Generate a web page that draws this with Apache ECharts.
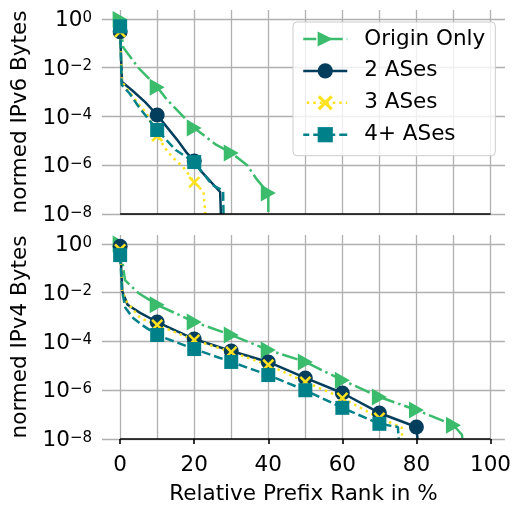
<!DOCTYPE html>
<html><head><meta charset="utf-8">
<script src="https://cdn.jsdelivr.net/npm/echarts@6/dist/echarts.min.js"></script>
<style>html,body{margin:0;padding:0;background:#fff}#c{width:514px;height:509px}</style>
</head><body><div id="c"></div>
<script>
const FLOOR = 1e-8;
const seriesNames = ['Origin Only', '2 ASes', '3 ASes', '4+ ASes'];
const xTickLabels = [0, 20, 40, 60, 80, 100];
const xGridValues = [0, 10, 20, 30, 40, 50, 60, 70, 80, 90, 100];

// IPv6 (top panel): [relative prefix rank %, normed bytes]
const v6Origin = [[0,0.95],[0.8,7e-2],[4.9,1.0e-2],[10,1.6e-3],[12.7,4.8e-4],[20,3.4e-5],[26,6.8e-6],[30,3.2e-6],[34.3,1.0e-6],[37,2.5e-7],[40,7.3e-8],[40,FLOOR]];
const v6As2    = [[0,0.3],[0.5,2.6e-3],[3.2,1.2e-3],[6.7,4e-4],[10,1.15e-4],[15.4,1.1e-5],[18,3.2e-6],[20,1.5e-6],[21.6,6.3e-7],[27,8e-8],[27.2,FLOOR]];
const v6As3    = [[0,0.3],[0.5,2.6e-3],[2.7,9e-4],[5.9,2.2e-4],[7.3,1.2e-4],[10,1.6e-5],[11.3,8e-6],[12.9,3.5e-6],[14.8,1.7e-6],[17,8.5e-7],[20,2e-7],[22.5,8e-8],[23,FLOOR]];
const v6As4    = [[0,0.5],[0.4,2e-3],[2.5,9e-4],[5,2.5e-4],[10,2.8e-5],[15,4.2e-6],[20,1.35e-6],[24.8,1.6e-7],[27.8,9e-8],[27.9,FLOOR]];

// IPv4 (bottom panel)
const v4Origin = [[0,1.0],[1.3,3.3e-2],[4.9,9.8e-3],[10,3.2e-3],[20,6.3e-4],[30,1.85e-4],[40,4.5e-5],[50,1.45e-5],[60,2.6e-6],[70,5.3e-7],[80,1.55e-7],[90,3.7e-8],[92.3,1.5e-8],[92.4,FLOOR]];
const v4As2    = [[0,0.8],[0.6,1.1e-2],[2,3.2e-3],[5.4,1.5e-3],[10,6.3e-4],[20,1.26e-4],[30,4.1e-5],[40,1.45e-5],[50,3.2e-6],[60,7.7e-7],[70,1.17e-7],[80,3.1e-8],[80.3,FLOOR]];
const v4As3    = [[0,0.6],[0.6,1.1e-2],[1.8,4.2e-3],[5.4,9.2e-4],[10,4.8e-4],[20,1.15e-4],[30,3.7e-5],[40,1.1e-5],[50,2.2e-6],[60,4.8e-7],[70,7.3e-8],[76,3e-8],[76.2,FLOOR]];
const v4As4    = [[0,0.35],[0.5,1.3e-2],[1.4,2.4e-3],[3.5,9.2e-4],[5.9,4.8e-4],[10,1.85e-4],[20,4.9e-5],[30,1.45e-5],[40,4.2e-6],[50,1.0e-6],[60,1.9e-7],[70,4.2e-8],[75,3.1e-8],[75.2,FLOOR]];

const FONT = 'DejaVu Sans';
const FS = 21.5;
const GRID_COLOR = '#b0b0b0';
const X_PATH = 'path://M0,1.5 L1.5,0 L5,3.5 L8.5,0 L10,1.5 L6.5,5 L10,8.5 L8.5,10 L5,6.5 L1.5,10 L0,8.5 L3.5,5 Z';

const styles = {
  'Origin Only': {color:'#3bbc6c', type:[16,4,2.5,4], symbol:'triangle', size:[17,15], rotate:-90},
  '2 ASes':      {color:'#033e5c', type:'solid', symbol:'circle', size:15, rotate:0},
  '3 ASes':      {color:'#fde21f', type:[2.5,4], symbol:X_PATH, size:12, rotate:0},
  '4+ ASes':     {color:'#00818a', type:[9,4], symbol:'rect', size:14, rotate:0}
};

function toData(arr) {
  return arr.map(function (p) {
    const isMarker = (p[0] % 10 === 0) && p[1] > FLOOR;
    return isMarker ? {value: p} : {value: p, symbol: 'none'};
  });
}

function makeSeries(name, arr, idx, withBase) {
  const s = styles[name];
  const ser = {
    name: name, type: 'line', xAxisIndex: idx, yAxisIndex: idx,
    data: toData(arr), symbol: s.symbol, symbolSize: s.size, symbolRotate: s.rotate,
    showAllSymbol: true, showSymbol: true, smooth: false,
    lineStyle: {color: s.color, width: 2.5, type: s.type},
    itemStyle: {color: s.color, borderWidth: 0},
    emphasis: {disabled: true}, animation: false, z: 2
  };
  if (withBase) {
    ser.markLine = {
      silent: true, symbol: ['none', 'none'], animation: false,
      label: {show: false},
      lineStyle: {color: '#000', type: 'solid', width: 1.6},
      data: [[{coord: [0, FLOOR]}, {coord: [100, FLOOR]}]]
    };
  }
  return ser;
}

function yLabel(v) {
  const e = Math.round(Math.log10(v));
  return '{b|10}{s|' + (e < 0 ? '\u2212' + (-e) : e) + '}';
}

function yAxis(idx, name) {
  return {
    gridIndex: idx, type: 'log', logBase: 100, min: FLOOR, max: 2.34,
    axisLine: {show: false}, axisTick: {show: false},
    splitLine: {show: true, showMaxLine: false, lineStyle: {color: GRID_COLOR, width: 1.3}},
    axisLabel: {
      showMaxLabel: false, margin: 10, formatter: yLabel, color: '#000',
      rich: {
        b: {fontFamily: FONT, fontSize: FS, lineHeight: 22, padding: [3, 0, 0, 0], color: '#000'},
        s: {fontFamily: FONT, fontSize: 15, lineHeight: 15, padding: [0, 0, 2.4, 0], color: '#000'}
      }
    },
    name: name, nameLocation: 'middle', nameGap: 67,
    nameTextStyle: {fontFamily: FONT, fontSize: FS, color: '#000'}
  };
}

function gridXAxis(idx) {
  return {
    gridIndex: idx, type: 'value', position: 'bottom', min: -4.9, max: 103.9,
    axisLine: {show: false},
    axisTick: {show: false, customValues: xGridValues},
    axisLabel: {show: false, customValues: xGridValues},
    splitLine: {show: true, lineStyle: {color: GRID_COLOR, width: 1.3}}
  };
}

const legendData = seriesNames.map(function (n) {
  return n === 'Origin Only' ? {name: n, lineStyle: {dashOffset: 3}} : {name: n};
});

const option = {
  animation: false,
  backgroundColor: '#fff',
  textStyle: {fontFamily: FONT},
  grid: [
    {left: 102, width: 403, top: 10, height: 204},
    {left: 102, width: 403, top: 235, height: 204}
  ],
  xAxis: [
    gridXAxis(0),
    gridXAxis(1),
    {
      gridIndex: 1, type: 'value', position: 'bottom', offset: 0, min: -4.9, max: 103.9,
      axisLine: {show: false, onZero: false},
      axisTick: {show: true, customValues: xTickLabels, length: 5, lineStyle: {color: '#000', width: 1.6}},
      axisLabel: {customValues: xTickLabels, margin: 15, color: '#000', fontFamily: FONT, fontSize: FS},
      splitLine: {show: false},
      name: 'Relative Prefix Rank in %', nameLocation: 'middle', nameGap: 44,
      nameTextStyle: {fontFamily: FONT, fontSize: FS, color: '#000'}
    }
  ],
  yAxis: [yAxis(0, 'normed IPv6 Bytes'), yAxis(1, 'normed IPv4 Bytes')],
  legend: {
    data: legendData, orient: 'vertical', left: 293, top: 22,
    itemWidth: 44, itemHeight: 19, itemGap: 9.9, padding: [6, 10, 10, 9],
    backgroundColor: 'rgba(255,255,255,0.8)', borderColor: '#cccccc', borderWidth: 1, borderRadius: 4,
    selectedMode: false,
    lineStyle: {width: 2.5},
    textStyle: {fontFamily: FONT, fontSize: FS, color: '#000', lineHeight: 22, padding: [0, 0, 0, 12]}
  },
  series: [
    makeSeries('Origin Only', v6Origin, 0, true),
    makeSeries('2 ASes', v6As2, 0, false),
    makeSeries('3 ASes', v6As3, 0, false),
    makeSeries('4+ ASes', v6As4, 0, false),
    makeSeries('Origin Only', v4Origin, 1, true),
    makeSeries('2 ASes', v4As2, 1, false),
    makeSeries('3 ASes', v4As3, 1, false),
    makeSeries('4+ ASes', v4As4, 1, false)
  ]
};

const chart = echarts.init(document.getElementById('c'), null, {renderer: 'canvas'});
chart.setOption(option);
</script>
</body></html>
